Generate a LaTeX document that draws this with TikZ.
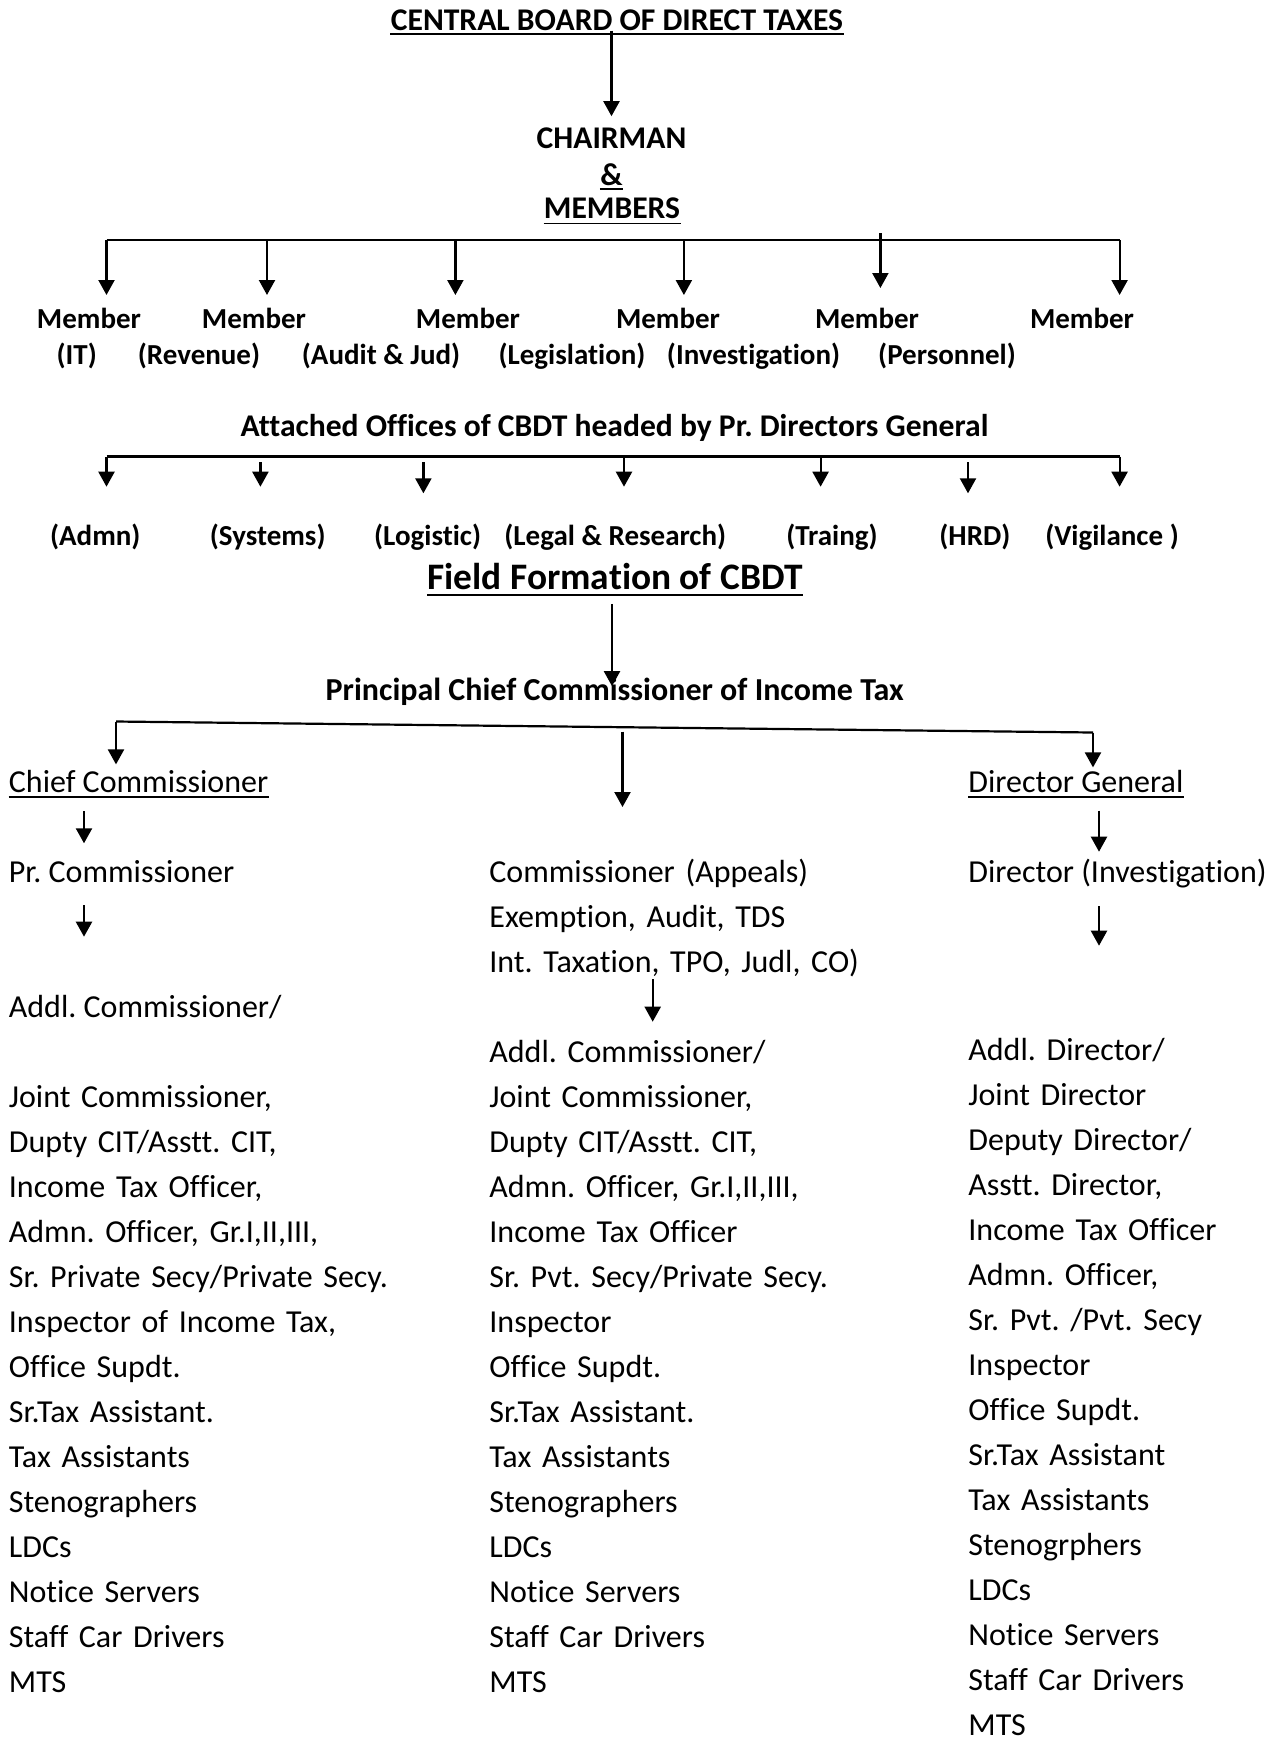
\documentclass[tikz,border=0pt]{standalone}
\usepackage{fontspec}
\setmainfont{Carlito}[Ligatures={TeX,NoCommon}]
\usetikzlibrary{arrows.meta}
\frenchspacing

\tikzset{
    every node/.style={inner sep=0pt},
    head/.style={font=\fontsize{15.8}{19}\selectfont\bfseries, anchor=base},
    mem/.style={font=\fontsize{14.5}{17}\selectfont\bfseries, anchor=base},
    field/.style={font=\fontsize{18.7}{22}\selectfont\bfseries, anchor=base},
    txt/.style={font=\fontsize{16}{22.5}\selectfont, anchor=base west},
    col/.style={font=\fontsize{16}{22.5}\selectfont\frenchspacing, anchor=base west,
                align=left, text width=8cm},
    arr/.style={line width=1.1pt, -{Triangle[length=7.5pt,width=8pt]}},
    bar/.style={line width=1.4pt},
    uline/.style={line width=0.8pt}
}

\begin{document}
\begin{tikzpicture}[x=0.5pt, y=-0.5pt]
    \useasboundingbox (0,0) rectangle (1285,1737);

    % board, chairman and members
    \node[head] (cbdt) at (617,30) {CENTRAL BOARD OF DIRECT TAXES};
    \node[head] (chair) at (611.5,148.3) {CHAIRMAN};
    \node[head] (amp) at (611.5,185) {\&};
    \node[head] (members) at (612,218) {MEMBERS};
    \draw[uline] ([yshift=-2pt]cbdt.base west) -- ([yshift=-2pt]cbdt.base east);
    \draw[uline] ([yshift=-2pt]amp.base west) -- ([yshift=-2pt]amp.base east);
    \draw[uline] ([yshift=-2.8pt]members.base west) -- ([yshift=-2.8pt]members.base east);
    \draw[arr, shorten >=5.5pt] (cbdt.south -| chair.north) -- (chair.north);

    \draw[bar] (106.5,240) -- (1119.6,240);
    \draw[arr] (106.5,240) -- (106.5,295);
    \draw[arr] (267,240) -- (267,295);
    \draw[arr] (455.4,240) -- (455.4,295);
    \draw[arr] (683.9,240) -- (683.9,295);
    \draw[arr] (880.4,233) -- (880.4,288);
    \draw[arr] (1119.6,240) -- (1119.6,295);

    \node[mem] (m1) at (89,328) {Member};
    \node[mem] (m2) at (254,328) {Member};
    \node[mem] (m3) at (468,328) {Member};
    \node[mem] (m4) at (668,328) {Member};
    \node[mem] (m5) at (867,328) {Member};
    \node[mem] (m6) at (1082,328) {Member};
    \node[mem] (s1) at (76.7,364) {(IT)};
    \node[mem] (s2) at (199,364) {(Revenue)};
    \node[mem] (s3) at (381,364) {(Audit \& Jud)};
    \node[mem] (s4) at (572,364) {(Legislation)};
    \node[mem] (s5) at (753.5,364) {(Investigation)};
    \node[mem] (s6) at (947,364) {(Personnel)};

    % attached offices
    \node[head] (att) at (614.6,436.7) {Attached Offices of CBDT headed by Pr. Directors General};
    \draw[bar] (106.5,456.7) -- (1119.6,456.7);
    \draw[arr] (106.5,456.7) -- (106.5,486.7);
    \draw[arr] (260.4,462.3) -- (260.4,486.7);
    \draw[arr] (423.4,462.3) -- (423.4,493.3);
    \draw[arr] (624,456.7) -- (624,486.7);
    \draw[arr] (820.6,456.7) -- (820.6,486.7);
    \draw[arr] (968,462.3) -- (968,493.3);
    \draw[arr] (1119.6,456.7) -- (1119.6,486.7);

    \node[mem] (admn) at (95.3,545.7) {(Admn)};
    \node[mem] (sys) at (267.7,545.7) {(Systems)};
    \node[mem] (logi) at (427.6,545.7) {(Logistic)};
    \node[mem] (legal) at (615.3,545.7) {(Legal \& Research)};
    \node[mem] (trg) at (832,545.7) {(Traing)};
    \node[mem] (hrd) at (974.9,545.7) {(HRD)};
    \node[mem] (vig) at (1112,545.7) {(Vigilance )};

    % field formation
    \node[field] (field) at (615,589.3) {Field Formation of CBDT};
    \draw[uline] ([yshift=-2.8pt]field.base west) -- ([yshift=-2.8pt]field.base east);
    \node[head, font=\fontsize{16}{19}\selectfont\bfseries] (pcc) at (614.8,700) {Principal Chief Commissioner of Income Tax};
    \draw[arr, shorten <=7pt, shorten >=-4.5pt] (field.south -| 612,0) -- (pcc.north -| 612,0);

    \coordinate (pl) at (116,721.5);
    \coordinate (pr) at (1093,732.5);
    \draw[line width=1.1pt] (pl) -- (pr);

    \node[txt] (cc) at (8.5,792) {Chief Commissioner};
    \node[txt] (dg) at (968,792) {Director General};
    \draw[uline] ([yshift=-2.5pt]cc.base west) -- ([yshift=-2.5pt]cc.base east);
    \draw[uline] ([yshift=-2.5pt]dg.base west) -- ([yshift=-2.5pt]dg.base east);
    \draw[arr, shorten >=2.5pt] (pl) -- (pl |- cc.north);
    \draw[arr, shorten >=1pt] (pr) -- (pr |- dg.north);
    \draw[arr] (622.5,731.7) -- (622.5,807);

    % left column
    \draw[arr] (84,811) -- (84,843.3);
    \node[txt] (prc) at (8.5,882) {Pr. Commissioner};
    \draw[arr] (84,905) -- (84,936.7);
    \node[txt] (addl) at (8.5,1017) {Addl. Commissioner/};
    \node[col] (lcol) at (8.5,1107) {Joint Commissioner,\\ Dupty CIT/Asstt. CIT,\\
        Income Tax Officer,\\ Admn. Officer, Gr.I,II,III,\\
        Sr. Private Secy/Private Secy.\\ Inspector of Income Tax,\\
        Office Supdt.\\ Sr.Tax Assistant.\\ Tax Assistants\\ Stenographers\\
        LDCs\\ Notice Servers\\ Staff Car Drivers\\ MTS};

    % middle column
    \node[col] (appeals) at (489,882) {Commissioner (Appeals)\\
        Exemption, Audit, TDS\\ Int. Taxation, TPO, Judl, CO)};
    \draw[arr] (652.7,979.3) -- (652.7,1021.7);
    \node[col] (mcol) at (489,1062) {Addl. Commissioner/\\ Joint Commissioner,\\
        Dupty CIT/Asstt. CIT,\\ Admn. Officer, Gr.I,II,III,\\ Income Tax Officer\\
        Sr. Pvt. Secy/Private Secy.\\ Inspector\\ Office Supdt.\\
        Sr.Tax Assistant.\\ Tax Assistants\\ Stenographers\\ LDCs\\
        Notice Servers\\ Staff Car Drivers\\ MTS};

    % right column
    \draw[arr] (1099,810.7) -- (1099,851.7);
    \node[txt] (dinv) at (968,882) {Director (Investigation)};
    \draw[arr] (1099,906) -- (1099,945.7);
    \node[col] (rcol) at (968,1060) {Addl. Director/\\ Joint Director\\
        Deputy Director/\\ Asstt. Director,\\ Income Tax Officer\\
        Admn. Officer,\\ Sr. Pvt. /Pvt. Secy\\ Inspector\\ Office Supdt.\\
        Sr.Tax Assistant\\ Tax Assistants\\ Stenogrphers\\ LDCs\\
        Notice Servers\\ Staff Car Drivers\\ MTS};
\end{tikzpicture}
\end{document}
